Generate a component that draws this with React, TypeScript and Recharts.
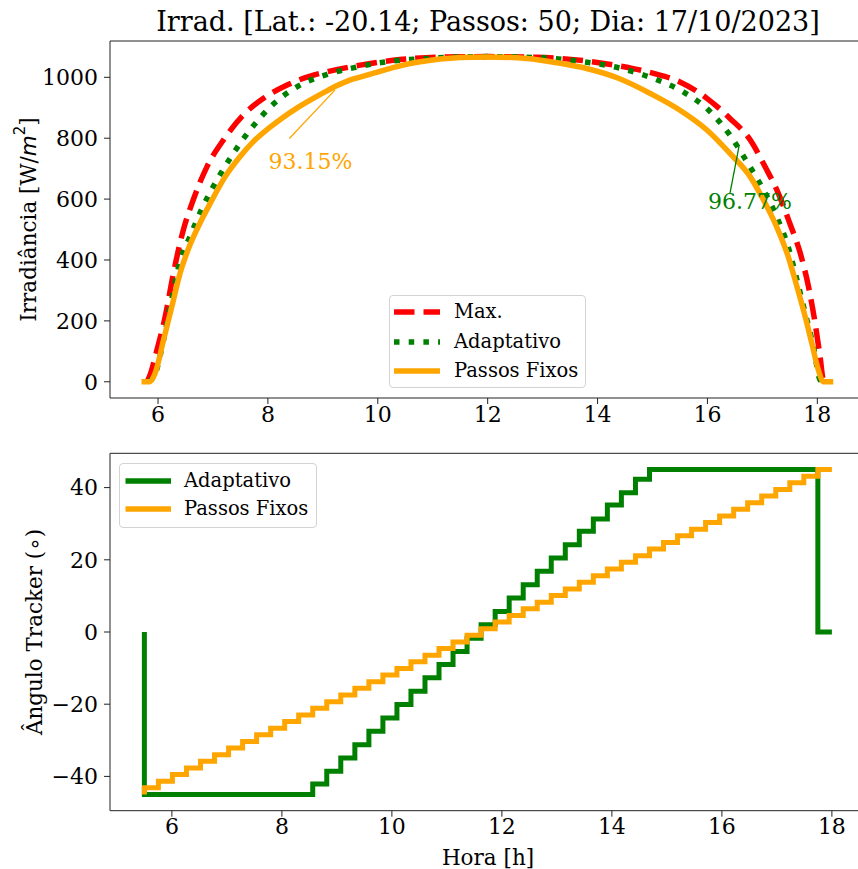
import { Legend, Line, LineChart, ReferenceDot, ReferenceLine, XAxis, YAxis } from "recharts";

const SERIF = "'DejaVu Serif', serif";
const SANS = "'DejaVu Sans', sans-serif";
const RED = "#ff0000";
const GREEN = "#008000";
const ORANGE = "#ffa500";
const SPINE = "#222";

// ---- top panel: irradiance (W/m2) ----
const maxHours = [5.8, 5.86, 5.98, 6.13, 6.28, 6.46, 6.64, 6.89, 7.19, 7.55, 7.92, 8.34, 8.77, 9.07, 9.68, 10.28, 11.07, 11.98, 12.89, 13.68, 14.41, 15.02, 15.5, 15.99, 16.41, 16.78, 17.05, 17.29, 17.5, 17.69, 17.84, 17.96, 18.05, 18.11, 18.15];
const maxValues = [0, 25, 104, 213, 356, 498, 597, 706, 794, 876, 931, 974, 1004, 1018, 1040, 1056, 1066, 1068, 1066, 1056, 1037, 1013, 985, 931, 865, 794, 706, 619, 520, 422, 312, 192, 82, 6, 0];

const adaptHours = [5.82, 5.95, 6.1, 6.25, 6.4, 6.58, 6.8, 7.07, 7.37, 7.71, 8.1, 8.55, 9.1, 9.6, 10.2, 11.0, 12.0, 13.0, 13.7, 14.41, 15.02, 15.56, 16.05, 16.41, 16.72, 16.99, 17.26, 17.47, 17.63, 17.78, 17.93, 18.05, 18.1];
const adaptValues = [0, 27, 137, 270, 395, 476, 569, 662, 750, 835, 912, 971, 1011, 1033, 1052, 1063, 1068, 1064, 1052, 1030, 996, 952, 887, 810, 722, 640, 542, 443, 334, 225, 115, 6, 0];

const fixedHours = [5.7, 5.85, 5.945, 6.1, 6.25, 6.4, 6.55, 6.76, 6.95, 7.22, 7.49, 7.73, 8.01, 8.25, 8.52, 8.77, 9.04, 9.25, 9.49, 9.8, 10.1, 10.46, 10.77, 11.5, 11.98, 12.71, 13.32, 13.8, 14.38, 14.96, 15.5, 15.99, 16.41, 16.78, 17.02, 17.26, 17.47, 17.63, 17.78, 17.9, 18.02, 18.11, 18.29];
const fixedValues = [0, 0, 27, 137, 246, 356, 435, 520, 586, 673, 739, 788, 832, 865, 898, 925, 952, 972, 991, 1007, 1023, 1040, 1051, 1065, 1067, 1062, 1046, 1029, 997, 947, 892, 827, 750, 673, 597, 509, 411, 312, 213, 126, 38, 0, 0];

// ---- bottom panel: tracker angle (deg) per step ----
const stepHours = [5.5, 5.755, 6.01, 6.265, 6.52, 6.776, 7.031, 7.286, 7.541, 7.796, 8.051, 8.306, 8.561, 8.816, 9.071, 9.327, 9.582, 9.837, 10.092, 10.347, 10.602, 10.857, 11.112, 11.367, 11.622, 11.878, 12.133, 12.388, 12.643, 12.898, 13.153, 13.408, 13.663, 13.918, 14.173, 14.429, 14.684, 14.939, 15.194, 15.449, 15.704, 15.959, 16.214, 16.469, 16.724, 16.98, 17.235, 17.49, 17.745, 18.0];
const adaptAngles = [0, -45, -45, -45, -45, -45, -45, -45, -45, -45, -45, -45, -45, -42.1, -38.6, -34.9, -31.2, -27.5, -23.8, -20.1, -16.4, -12.7, -9.0, -5.4, -1.7, 2.0, 5.7, 9.4, 13.1, 16.8, 20.5, 24.2, 27.9, 31.3, 35.2, 38.6, 42.3, 45, 45, 45, 45, 45, 45, 45, 45, 45, 45, 45, 45, 0];
const fixedAngles = [-45, -43.16, -41.33, -39.49, -37.65, -35.82, -33.98, -32.14, -30.31, -28.47, -26.63, -24.8, -22.96, -21.12, -19.29, -17.45, -15.61, -13.78, -11.94, -10.1, -8.27, -6.43, -4.59, -2.76, -0.92, 0.92, 2.76, 4.59, 6.43, 8.27, 10.1, 11.94, 13.78, 15.61, 17.45, 19.29, 21.12, 22.96, 24.8, 26.63, 28.47, 30.31, 32.14, 33.98, 35.82, 37.65, 39.49, 41.33, 43.16, 45];

const hourTicks = [6, 8, 10, 12, 14, 16, 18];
const irradTicks = [0, 200, 400, 600, 800, 1000];
const angleTicks = [-40, -20, 0, 20, 40];

const zip = (hs: number[], vs: number[]) => hs.map((h, i) => ({ h, v: vs[i] }));
const maxData = zip(maxHours, maxValues);
const adaptData = zip(adaptHours, adaptValues);
const fixedData = zip(fixedHours, fixedValues);
const adaptStep = zip(stepHours, adaptAngles);
const fixedStep = zip(stepHours, fixedAngles);

const TOP_X: [number, number] = [5.126, 18.904];
const TOP_Y: [number, number] = [-53.3, 1119.3];
const BOT_X: [number, number] = [4.875, 18.625];
const BOT_Y: [number, number] = [-49.5, 49.5];

const tickStyle = { fontSize: 22, fill: "#000", fontFamily: SERIF };
// matplotlib draws a real minus sign
const fmt = (v: number) => String(v).replace("-", "\u2212");

interface LegendRow {
  label: string;
  color: string;
  dash?: string;
}

function LegendBox({ rows, lineX, lineW, textX, firstY, gap }: {
  rows: LegendRow[]; lineX: number; lineW: number; textX: number; firstY: number; gap: number;
}) {
  return (
    <div
      style={{
        position: "relative",
        width: "100%",
        height: "100%",
        boxSizing: "border-box",
        border: "1px solid #d3d3d3",
        borderRadius: 4,
        background: "rgba(255,255,255,0.8)",
        fontFamily: SERIF,
      }}
    >
      {rows.map((r, i) => (
        <div key={r.label} style={{ position: "absolute", left: 0, top: firstY + i * gap - 14, height: 28, width: "100%" }}>
          <svg width={lineX + lineW + 2} height={28} style={{ position: "absolute", left: 0, top: 0 }}>
            <line x1={lineX} x2={lineX + lineW} y1={14} y2={14} stroke={r.color} strokeWidth={5.5} strokeDasharray={r.dash} />
          </svg>
          <span style={{ position: "absolute", left: textX, top: 0, lineHeight: "28px", fontSize: 19.5, color: "#000", whiteSpace: "nowrap" }}>
            {r.label}
          </span>
        </div>
      ))}
    </div>
  );
}

export default function App() {
  return (
    <div style={{ position: "fixed", left: 0, top: 0, width: 858, height: 869, overflow: "hidden", background: "#fff" }}>
      <div style={{ position: "absolute", left: 0, top: 0 }}>
        <LineChart width={880} height={430} margin={{ top: 41, right: 13, bottom: 0, left: 0 }}>
          <XAxis type="number" dataKey="h" domain={TOP_X} ticks={hourTicks} interval={0} allowDataOverflow
            height={32} tick={tickStyle} tickSize={6} tickMargin={2} stroke={SPINE} />
          <YAxis type="number" domain={TOP_Y} ticks={irradTicks} interval={0} allowDataOverflow
            width={110} tick={tickStyle} tickSize={6} tickMargin={6} stroke={SPINE} tickFormatter={fmt} />
          <ReferenceLine y={TOP_Y[1]} stroke={SPINE} strokeWidth={1} />
          <Line data={maxData} dataKey="v" name="Max." type="monotone" stroke={RED} strokeWidth={5.5}
            strokeDasharray="20.5 9" dot={false} activeDot={false} isAnimationActive={false} />
          <Line data={adaptData} dataKey="v" name="Adaptativo" type="monotone" stroke={GREEN} strokeWidth={5.5}
            strokeDasharray="5.5 9.2" dot={false} activeDot={false} isAnimationActive={false} />
          <Line data={fixedData} dataKey="v" name="Passos Fixos" type="monotone" stroke={ORANGE} strokeWidth={5.5}
            dot={false} activeDot={false} isAnimationActive={false} />
          <ReferenceLine segment={[{ x: 8.39, y: 799 }, { x: 9.22, y: 958 }]} stroke={ORANGE} strokeWidth={1.3} />
          <ReferenceLine segment={[{ x: 16.41, y: 619 }, { x: 16.575, y: 774 }]} stroke={GREEN} strokeWidth={1.3} />
          <ReferenceDot x={8.776} y={725} r={0} fill="none" stroke="none"
            label={{ value: "93.15%", position: "center", fill: ORANGE, fontSize: 22, fontFamily: SERIF }} />
          <ReferenceDot x={16.775} y={593} r={0} fill="none" stroke="none"
            label={{ value: "96.77%", position: "center", fill: GREEN, fontSize: 22, fontFamily: SERIF }} />
          <Legend layout="horizontal" verticalAlign="middle" align="center"
            wrapperStyle={{ left: 389, top: 295, width: 197, height: 93 }}
            content={() => (
              <LegendBox lineX={4} lineW={46} textX={64} firstY={16} gap={29.5}
                rows={[
                  { label: "Max.", color: RED, dash: "20.5 9" },
                  { label: "Adaptativo", color: GREEN, dash: "5.5 9.2" },
                  { label: "Passos Fixos", color: ORANGE },
                ]} />
            )} />
        </LineChart>
      </div>

      <div style={{ position: "absolute", left: 0, top: 440 }}>
        <LineChart width={880} height={429} margin={{ top: 13.3, right: 13.75, bottom: 18.3, left: 0 }}>
          <XAxis type="number" dataKey="h" domain={BOT_X} ticks={hourTicks} interval={0} allowDataOverflow
            height={40} tick={tickStyle} tickSize={6} tickMargin={2} stroke={SPINE} />
          <YAxis type="number" domain={BOT_Y} ticks={angleTicks} interval={0} allowDataOverflow
            width={110} tick={tickStyle} tickSize={6} tickMargin={6} stroke={SPINE} tickFormatter={fmt} />
          <ReferenceLine y={BOT_Y[1]} stroke={SPINE} strokeWidth={1} />
          <Line data={adaptStep} dataKey="v" name="Adaptativo" type="stepBefore" stroke={GREEN} strokeWidth={5}
            dot={false} activeDot={false} isAnimationActive={false} />
          <Line data={fixedStep} dataKey="v" name="Passos Fixos" type="stepBefore" stroke={ORANGE} strokeWidth={5}
            dot={false} activeDot={false} isAnimationActive={false} />
          <Legend layout="horizontal" verticalAlign="middle" align="center"
            wrapperStyle={{ left: 119, top: 23, width: 198, height: 65 }}
            content={() => (
              <LegendBox lineX={5.5} lineW={45.5} textX={64} firstY={17} gap={28.3}
                rows={[
                  { label: "Adaptativo", color: GREEN },
                  { label: "Passos Fixos", color: ORANGE },
                ]} />
            )} />
        </LineChart>
      </div>

      <svg width={858} height={869} style={{ position: "absolute", left: 0, top: 0, pointerEvents: "none" }}>
        <text x={488} y={31} textAnchor="middle" fontSize={27} fontFamily={SERIF} fill="#000">
          Irrad. [Lat.: -20.14; Passos: 50; Dia: 17/10/2023]
        </text>
        <text transform="translate(28,219.5) rotate(-90)" textAnchor="middle" dominantBaseline="central"
          fontSize={21.5} fontFamily={SERIF} fill="#000">
          Irradiância [W/<tspan fontFamily={SANS} fontStyle="italic">m</tspan>
          <tspan fontFamily={SANS} fontSize={15} dy={-8}>2</tspan>
          <tspan dy={8}>]</tspan>
        </text>
        <text transform="translate(34,632) rotate(-90)" textAnchor="middle" dominantBaseline="central"
          fontSize={21.5} fontFamily={SERIF} fill="#000">
          Ângulo Tracker (<tspan fontFamily={SANS}>∘</tspan>)
        </text>
        <text x={488} y={865} textAnchor="middle" fontSize={21.5} fontFamily={SERIF} fill="#000">
          Hora [h]
        </text>
      </svg>
    </div>
  );
}
